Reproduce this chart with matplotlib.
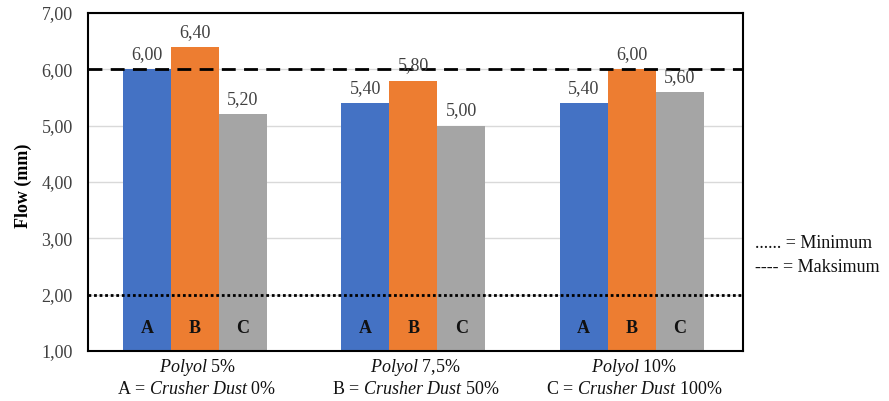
import matplotlib
matplotlib.use("Agg")
import matplotlib.pyplot as plt
import numpy as np

# Flow test results per polyol content
groups = ["5%", "7,5%", "10%"]
series_names = ["A", "B", "C"]
flow_A = [6.00, 5.40, 5.40]
flow_B = [6.40, 5.80, 6.00]
flow_C = [5.20, 5.00, 5.60]
colors = ["#4472C4", "#ED7D31", "#A5A5A5"]
limit_min = 2.0
limit_max = 6.0
crusher_dust = ["0%", "50%", "100%"]

plt.rcParams["font.family"] = ["Liberation Serif", "DejaVu Serif"]
plt.rcParams["mathtext.fontset"] = "custom"
plt.rcParams["mathtext.rm"] = "Liberation Serif"
plt.rcParams["mathtext.it"] = "Liberation Serif:italic"
plt.rcParams["mathtext.bf"] = "Liberation Serif:bold"

FS = 13

fig = plt.figure(figsize=(8.89, 4.01), dpi=100)
ax = fig.add_axes([88 / 889, 1 - 351 / 401, 655 / 889, 338 / 401])

x = np.arange(len(groups))
width = 0.22
series = [flow_A, flow_B, flow_C]
for i, (vals, col, name) in enumerate(zip(series, colors, series_names)):
    pos = x + (i - 1) * width - 0.01
    ax.bar(pos, [v - 1.0 for v in vals], width, bottom=1.0, color=col, zorder=2)
    for p, v in zip(pos, vals):
        ax.text(p, v + 0.11, f"{v:.2f}".replace(".", ","), ha="center", va="bottom",
                fontsize=FS, color="#404040", zorder=4)
        ax.text(p, 1.40, name, ha="center", va="center", fontsize=FS,
                fontweight="bold", color="#111111", zorder=4)

ax.axhline(limit_max, color="black", linestyle=(0, (5, 3)), linewidth=2, zorder=3)
ax.axhline(limit_min, color="black", linestyle=(0, (1, 1)), linewidth=2, zorder=3)

ax.set_xlim(-0.5, 2.5)
ax.set_ylim(1, 7)
ax.set_yticks(np.arange(1, 8))
ax.set_yticklabels([f"{v:.2f}".replace(".", ",") for v in np.arange(1, 8)],
                   fontsize=FS, color="#404040")
ax.yaxis.grid(True, color="#D9D9D9", linewidth=1, zorder=0)
ax.set_axisbelow(True)
ax.tick_params(axis="y", length=0, pad=11)
ax.tick_params(axis="x", length=0)
ax.set_xticks(x)
ax.set_xticklabels([])
for s in ax.spines.values():
    s.set_color("black")
    s.set_linewidth(1.5)

ax.set_ylabel("Flow (mm)", fontsize=13, fontweight="bold")
ax.yaxis.set_label_coords(-0.086, 0.49)

# Category labels beneath the axis, with the series key on a second line
for xi, g, cd, nm in zip(x, groups, crusher_dust, series_names):
    ax.annotate("$\\it{Polyol}$ " + g, xy=(xi, 0), xycoords=("data", "axes fraction"),
                xytext=(0, -12), textcoords="offset points", ha="center", va="center",
                fontsize=FS, color="#111111")
    ax.annotate(nm + " = $\\it{Crusher\\ Dust}$ " + cd, xy=(xi, 0),
                xycoords=("data", "axes fraction"),
                xytext=(0, -28), textcoords="offset points", ha="center", va="center",
                fontsize=FS, color="#111111")

# Key for the limit lines
fig.text(755 / 889, 1 - 243 / 401, "...... = Minimum", fontsize=FS, va="center",
         color="#111111")
fig.text(755 / 889, 1 - 267 / 401, "---- = Maksimum", fontsize=FS, va="center",
         color="#111111")

fig.savefig("out.png", dpi=100)
